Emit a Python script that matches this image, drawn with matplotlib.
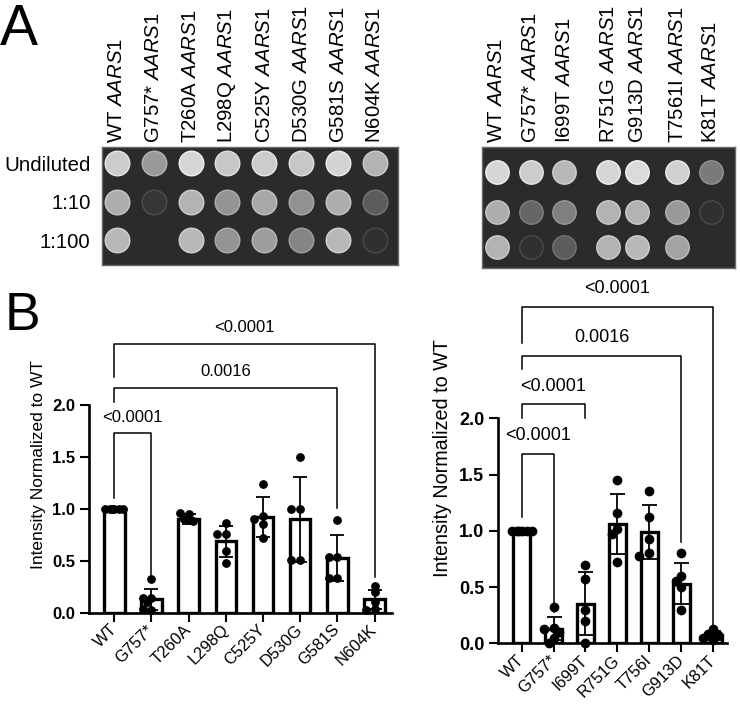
import numpy as np
import matplotlib
matplotlib.use('Agg')
import matplotlib.pyplot as plt

plt.rcParams['font.family'] = ['Liberation Sans', 'DejaVu Sans']
plt.rcParams['mathtext.fontset'] = 'custom'
plt.rcParams['mathtext.rm'] = 'Liberation Sans'
plt.rcParams['mathtext.it'] = 'Liberation Sans:italic'

# ---- panel A: spot assay (gray level of each spot, 0 = no growth) ----
strains_a_left = ['WT', 'G757*', 'T260A', 'L298Q', 'C525Y', 'D530G', 'G581S', 'N604K']
strains_a_right = ['WT', 'G757*', 'I699T', 'R751G', 'G913D', 'T7561I', 'K81T']
dilutions = ['Undiluted', '1:10', '1:100']

spots_left = [
    [0.80, 0.60, 0.84, 0.78, 0.80, 0.78, 0.83, 0.70],   # undiluted
    [0.68, 0.21, 0.70, 0.58, 0.66, 0.57, 0.68, 0.36],   # 1:10
    [0.72, 0.00, 0.72, 0.58, 0.62, 0.52, 0.72, 0.19],   # 1:100
]
spots_right = [
    [0.84, 0.80, 0.72, 0.84, 0.86, 0.82, 0.48],
    [0.68, 0.40, 0.50, 0.70, 0.70, 0.60, 0.19],
    [0.70, 0.19, 0.36, 0.70, 0.72, 0.64, 0.00],
]

# ---- panel B: intensity normalized to WT ----
labels_l = ['WT', 'G757*', 'T260A', 'L298Q', 'C525Y', 'D530G', 'G581S', 'N604K']
mean_l = [1.0, 0.13, 0.90, 0.69, 0.92, 0.90, 0.53, 0.13]
sd_l = [0.0, 0.10, 0.05, 0.15, 0.19, 0.41, 0.22, 0.09]
pts_l = [
    [1.0, 1.0, 1.0, 1.0, 1.0, 1.0],
    [0.32, 0.145, 0.10, 0.145, 0.03, 0.04],
    [0.95, 0.96, 0.90, 0.88, 0.89],
    [0.86, 0.76, 0.76, 0.59, 0.48],
    [1.24, 0.93, 0.90, 0.85, 0.72],
    [1.50, 1.00, 1.00, 0.51, 0.51],
    [0.89, 0.54, 0.54, 0.33, 0.33],
    [0.26, 0.20, 0.10, 0.04, 0.03],
]
comp_l = [(0, 1, '<0.0001'), (0, 6, '0.0016'), (0, 7, '<0.0001')]

labels_r = ['WT', 'G757*', 'I699T', 'R751G', 'T756I', 'G913D', 'K81T']
mean_r = [1.0, 0.13, 0.35, 1.06, 0.99, 0.53, 0.07]
sd_r = [0.0, 0.10, 0.28, 0.27, 0.24, 0.18, 0.04]
pts_r = [
    [1.0, 1.0, 1.0, 1.0, 1.0, 1.0],
    [0.32, 0.14, 0.13, 0.10, 0.05, 0.0],
    [0.70, 0.57, 0.30, 0.20, 0.0],
    [1.45, 1.16, 1.02, 0.97, 0.72],
    [1.35, 1.12, 0.93, 0.80, 0.78],
    [0.80, 0.60, 0.55, 0.50, 0.30],
    [0.13, 0.08, 0.07, 0.05, 0.03],
]
comp_r = [(0, 1, '<0.0001'), (0, 2, '<0.0001'), (0, 5, '0.0016'), (0, 6, '<0.0001')]

# bracket geometry (top, left leg end, right leg end, label y) in data units
brk_l = [(1.73, 1.105, 0.36, 1.885), (2.165, 2.03, 1.01, 2.32), (2.59, 2.27, 0.34, 2.75)]
brk_r = [(1.683, 1.125, 0.28, 1.85), (2.124, 2.0, 2.0, 2.28),
         (2.554, 2.435, 0.90, 2.72), (2.99, 2.67, 0.163, 3.156)]

W, H = 740, 708
fig = plt.figure(figsize=(W / 100, H / 100), dpi=100)


def px_axes(x0, y0, x1, y1):
    return fig.add_axes([x0 / W, 1 - y1 / H, (x1 - x0) / W, (y1 - y0) / H])


bg = 0.17


def plate(ax, w, h, colx, rowy, spots, names, size, rows=None):
    ax.set_xlim(0, w)
    ax.set_ylim(h, 0)
    ax.set_facecolor('#2b2b2b')
    for s in ax.spines.values():
        s.set_color('#6a6a6a')
        s.set_linewidth(1.0)
    for j, row in enumerate(spots):
        for i, v in enumerate(row):
            if v <= bg:
                continue
            ax.scatter(colx[i], rowy[j], s=size, color=(v, v, v),
                       edgecolors=[(min(1, v + 0.1),) * 3], linewidths=1.0)
    ax.xaxis.set_ticks_position('top')
    ax.set_xticks(colx, [n + r' $\mathit{AARS1}$' for n in names], rotation=90, fontsize=14.7)
    ax.tick_params(axis='x', length=0, pad=3)
    if rows:
        ax.set_yticks(rowy, rows, fontsize=14.7)
        ax.tick_params(axis='y', length=0, pad=8)
    else:
        ax.set_yticks([])


axA1 = px_axes(101.7, 146.7, 398.3, 265)
plate(axA1, 296.6, 118.3, [15 + 36.9 * i for i in range(8)], [16.6, 55.0, 93.3],
      spots_left, strains_a_left, 313, dilutions)
axA2 = px_axes(481.7, 146.7, 735, 268.3)
plate(axA2, 253.3, 121.6, [15, 49, 82.3, 126.6, 155.6, 195.6, 229], [25, 65, 100],
      spots_right, strains_a_right, 284)


def swarm(vals, ypx, xpx, d):
    cands = [0, -0.6, 0.6, -1.2, 1.2, -0.3, 0.3, -0.9, 0.9]
    placed, offs = [], []
    for v in vals:
        best, best_gap = 0, -1
        for c in cands:
            ox = c * d
            gap = min([np.hypot(ox - p, (v - q) * ypx) for p, q in placed] or [1e9])
            if gap >= 0.8 * d:
                best = ox
                break
            if gap > best_gap:
                best, best_gap = ox, gap
        placed.append((best, v))
        offs.append(best / xpx)
    return offs


def bars(ax, labels, means, sds, pts, comps, brks, ypx, xpx, barw, dot, k, ylab_fs, ylab_pad):
    x = np.arange(len(labels))
    ax.bar(x, means, barw, facecolor='white', edgecolor='black', linewidth=2.4, zorder=2)
    ax.errorbar(x, means, yerr=sds, fmt='none', ecolor='black', elinewidth=1.3,
                capsize=5 * k, capthick=1.3, zorder=3)
    dpx = np.sqrt(dot) * 100 / 72
    for i, p in enumerate(pts):
        offs = swarm(p, ypx, xpx, dpx)
        ax.scatter(x[i] + np.array(offs), p, s=dot, color='black', zorder=4, clip_on=False)
    for (a, b, txt), (top, la, lb, ty) in zip(comps, brks):
        ax.plot([a, a, b, b], [la, top, top, lb], color='black', lw=1.1, clip_on=False)
        ax.text((a + b) / 2, ty, txt, ha='center', va='center', fontsize=12 * k)
    for s in ['top', 'right']:
        ax.spines[s].set_visible(False)
    ax.spines['left'].set_bounds(0, 2)
    ax.spines['left'].set_linewidth(1.9)
    ax.spines['bottom'].set_linewidth(1.9)
    ax.set_yticks([0, 0.5, 1.0, 1.5, 2.0], ['0.0', '0.5', '1.0', '1.5', '2.0'],
                  fontsize=12 * k, fontweight='bold')
    ax.set_xticks(x, labels, rotation=45, ha='right', va='center', rotation_mode='anchor',
                  fontsize=11.8)
    ax.tick_params(axis='both', length=6.5, width=1.5)
    ax.tick_params(axis='x', pad=4)
    ax.set_ylabel('Intensity Normalized to WT', fontsize=ylab_fs, labelpad=ylab_pad)
    ax.set_facecolor('none')


axB1 = px_axes(89, 612.7 - 2.85 * 103.8, 392, 612.7)
axB1.set_xlim(-0.68, 7.47)
axB1.set_ylim(0, 2.85)
bars(axB1, labels_l, mean_l, sd_l, pts_l, comp_l, brk_l, 103.8, 37.2, 0.55, 28, 1.0, 12.5, 4)

axB2 = px_axes(498.3, 643.3 - 3.3 * 112.5, 727, 643.3)
axB2.set_xlim(-0.73, 6.43)
axB2.set_ylim(0, 3.3)
bars(axB2, labels_r, mean_r, sd_r, pts_r, comp_r, brk_r, 112.5, 31.93, 0.52, 36, 1.08, 14.2, 5)

fig.text(0 / W, 1 - 45 / H, 'A', fontsize=41, va='baseline', ha='left')
fig.text(5 / W, 1 - 330 / H, 'B', fontsize=38.5, va='baseline', ha='left')

fig.savefig('out.png', dpi=100)
